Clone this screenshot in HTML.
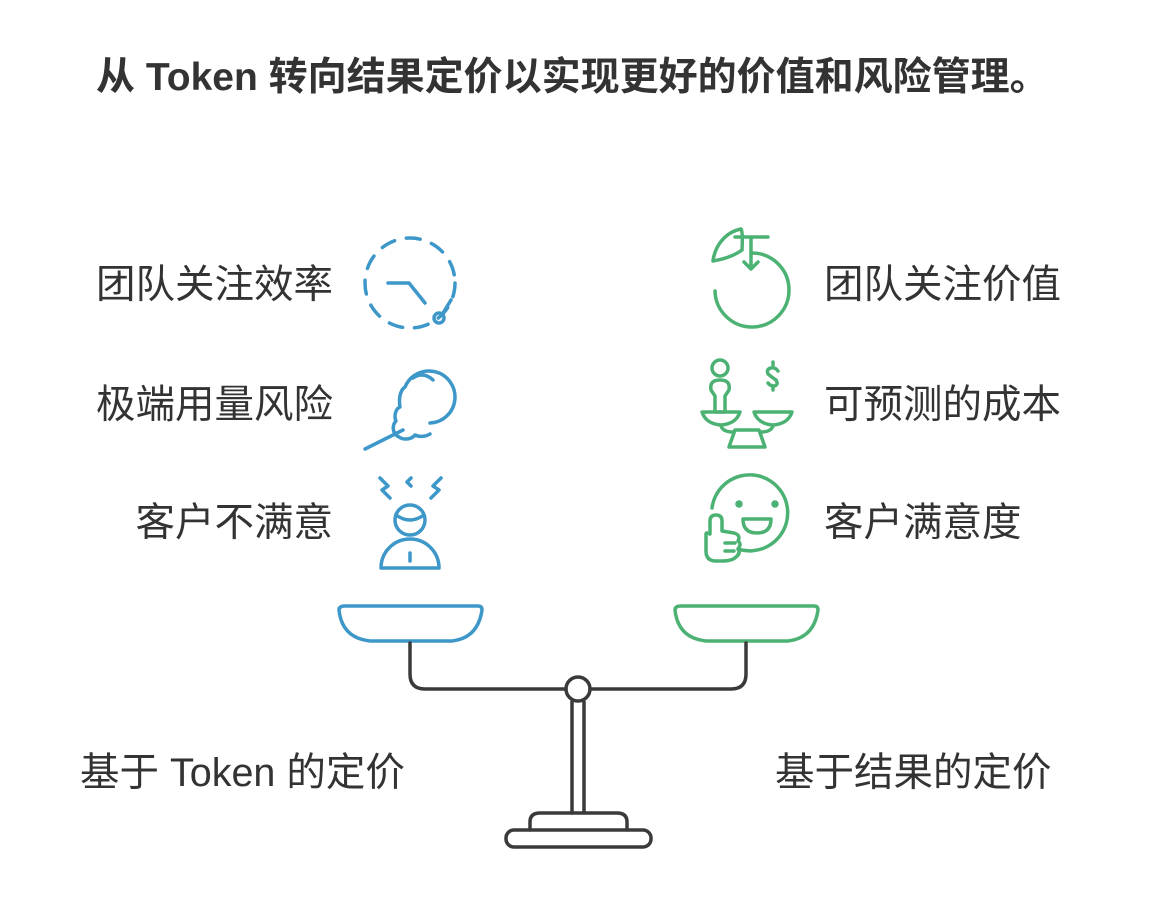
<!DOCTYPE html>
<html><head><meta charset="utf-8"><style>
body{margin:0;width:1158px;height:912px;background:#fff;overflow:hidden;position:relative;font-family:"Liberation Sans","Noto Sans CJK SC",sans-serif;color:#333}
.t{position:absolute;font-size:39.5px;line-height:44px;white-space:nowrap}
</style></head><body>
<div class="t" style="left:96px;top:56px;font-weight:bold;font-size:39px">从 Token 转向结果定价以实现更好的价值和风险管理。</div>
<div class="t" style="right:825px;top:263px">团队关注效率</div>
<div class="t" style="right:825px;top:383px">极端用量风险</div>
<div class="t" style="right:825px;top:501px">客户不满意</div>
<div class="t" style="left:824px;top:263px">团队关注价值</div>
<div class="t" style="left:824px;top:383px">可预测的成本</div>
<div class="t" style="left:824px;top:501px">客户满意度</div>
<div class="t" style="left:80px;top:751px">基于 Token 的定价</div>
<div class="t" style="left:775px;top:751px">基于结果的定价</div>
<svg width="1158" height="912" style="position:absolute;left:0;top:0" fill="none" stroke-linecap="round" stroke-linejoin="round">
<g stroke="#3d97c9" stroke-width="3.5">
<circle cx="410" cy="283" r="45" stroke-dasharray="14 12"/>
<path d="M388 283 H409 L425 303"/>
<circle cx="439" cy="318" r="5"/>
<path d="M443 313 L451 300"/>
<path d="M430 423 a26 26 0 1 0 -25 -36 c-6 4 -6 14 -5 20 c-5 2 -6 10 -4 14 c-4 4 -4 13 3 16 c4 3 12 3 16 -2 c4 2 10 2 15 -1 M403 430 L365 449"/>
<path d="M413 378 q10 -7 20 2"/>
<path d="M380 478 l8 8 l-6 4 l8 8 M411 478 l-4 4 l4 4 M441 478 l-8 8 l6 4 l-8 8"/>
<circle cx="410" cy="520" r="15"/>
<path d="M396 515 q14 10 28 0"/>
<path d="M381 568 a29 29 0 0 1 58 0 Z M410 553 v8"/>
<path d="M345 606 H478 q4 0 4 4 q-4 28 -30 31 H370 q-28 -3 -31 -31 q0 -4 6 -4 Z"/>
</g>
<g stroke="#4cb273" stroke-width="3.5">
<path d="M735 237 H768 M751 237 V268 M744 262 L751 269 L758 262"/>
<path d="M742 250 q1 -18 -1 -21 c-15 3 -26 16 -28 32 q18 -3 29 -11"/>
<path d="M715 291 a37 37 0 1 0 37 -38"/>
<circle cx="720" cy="368" r="8"/>
<path d="M720 380 c-8 0 -10 4 -9 10 l4 6 v16 h10 v-16 l4 -6 c1 -6 -1 -10 -9 -10 Z"/>
<path d="M702 412 h38 q-4 12 -19 13 q-15 -1 -19 -13 Z M754 412 h38 q-4 12 -19 13 q-15 -1 -19 -13 Z"/>
<path d="M721 426 q2 6 12 6 M773 426 q-2 6 -12 6 M735 430 h24 l6 17 h-36 Z"/>
<path d="M778 371 q-3 -4 -7 -3 q-5 1 -3 6 q5 4 8 6 q3 5 -2 6 q-4 0 -6 -3 M773 365 v-3 M773 386 v4"/>
<path d="M712 508 a38 38 0 1 1 26 41"/>
<circle cx="739" cy="504" r="2" fill="#4cb273"/><circle cx="775" cy="504" r="2" fill="#4cb273"/>
<path d="M743 519 h28 q0 14 -14 14 q-14 0 -14 -14 Z"/>
<path d="M710 534 v-13 q0 -6 6 -6 q6 0 6 6 v10 l12 2 q7 2 4 8 q4 3 0 8 q3 4 -2 8 q-4 4 -14 4 h-6 q-10 0 -10 -10 v-17 q0 -2 4 0 Z M725 543 h10 M725 551 h9"/>
<path d="M681 606 H814 q4 0 4 4 q-4 28 -30 31 H706 q-28 -3 -31 -31 q0 -4 6 -4 Z"/>
</g>
<g stroke="#3a3a3a" stroke-width="3.5">
<path d="M410 643 V674 q0 15 15 15 H566 M590 689 H731 q15 0 15 -15 V643"/>
<circle cx="578" cy="689" r="12"/>
<path d="M572 702 V813 M584 702 V813"/>
<path d="M530 830 v-8 q0 -9 10 -9 h77 q10 0 10 9 v8"/>
<rect x="506" y="830" width="145" height="17" rx="8"/>
</g>
</svg>
</body></html>
